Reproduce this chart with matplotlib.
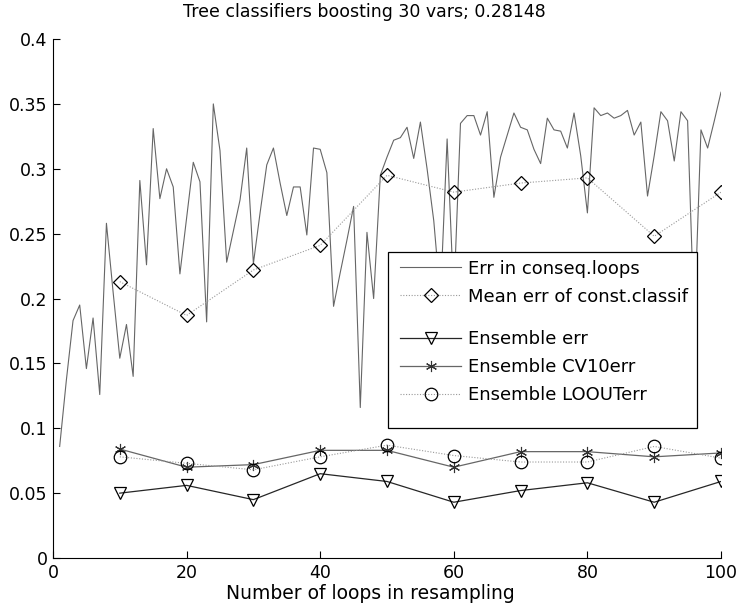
import numpy as np
import matplotlib.pyplot as plt
from matplotlib.patches import Rectangle

# error in consecutive resampling loops
loops = np.arange(1, 101)
err_loops = [0.086, 0.137, 0.183, 0.195, 0.146, 0.185, 0.126, 0.258, 0.205, 0.154,
             0.180, 0.140, 0.291, 0.226, 0.331, 0.277, 0.300, 0.286, 0.219, 0.262,
             0.305, 0.290, 0.182, 0.350, 0.314, 0.228, 0.252, 0.276, 0.316, 0.227,
             0.266, 0.303, 0.316, 0.289, 0.264, 0.286, 0.286, 0.249, 0.316, 0.315,
             0.297, 0.194, 0.220, 0.245, 0.271, 0.116, 0.251, 0.200, 0.295, 0.309,
             0.322, 0.324, 0.332, 0.308, 0.336, 0.300, 0.260, 0.200, 0.323, 0.200,
             0.335, 0.341, 0.341, 0.326, 0.344, 0.278, 0.309, 0.326, 0.343, 0.332,
             0.330, 0.315, 0.304, 0.339, 0.330, 0.329, 0.316, 0.343, 0.310, 0.266,
             0.347, 0.341, 0.343, 0.339, 0.341, 0.345, 0.326, 0.336, 0.279, 0.310,
             0.344, 0.337, 0.306, 0.344, 0.337, 0.180, 0.330, 0.316, 0.337, 0.359]

# every 10 loops
step_loops = np.arange(10, 101, 10)
mean_const_err = [0.213, 0.187, 0.222, 0.241, 0.295, 0.282, 0.289, 0.293, 0.248, 0.282]
ens_err = [0.050, 0.056, 0.045, 0.065, 0.059, 0.043, 0.052, 0.058, 0.043, 0.059]
ens_cv10 = [0.084, 0.070, 0.072, 0.083, 0.083, 0.070, 0.082, 0.082, 0.078, 0.081]
ens_loout = [0.078, 0.073, 0.068, 0.078, 0.087, 0.079, 0.074, 0.074, 0.086, 0.077]

xticks = [0, 20, 40, 60, 80, 100]
yticks = [0, 0.05, 0.1, 0.15, 0.2, 0.25, 0.3, 0.35, 0.4]
ytick_labels = ['0', '0.05', '0.1', '0.15', '0.2', '0.25', '0.3', '0.35', '0.4']

plt.rcParams['font.family'] = 'DejaVu Sans'

fig = plt.figure(figsize=(7.37, 6.10), dpi=100)
ax = fig.add_axes([0.0719, 0.0852, 0.9064, 0.8508])

dots = (0, (1, 1.5))
h1, = ax.plot(loops, err_loops, color='0.4', lw=0.8, label='Err in conseq.loops')
h2, = ax.plot(step_loops, mean_const_err, ls=dots, color='0.6', lw=0.8,
              marker='D', ms=6.8, mfc='none', mec='k', mew=0.9,
              label='Mean err of const.classif')
h3, = ax.plot(step_loops, ens_err, color='0.15', lw=0.9,
              marker='v', ms=9, mfc='none', mec='k', mew=0.9, label='Ensemble err')
h4, = ax.plot(step_loops, ens_cv10, color='0.4', lw=0.9,
              marker=(6, 2, 0), ms=8, mec='0.2', mew=0.8, label='Ensemble CV10err')
h5, = ax.plot(step_loops, ens_loout, ls=dots, color='0.6', lw=0.8,
              marker='o', ms=9, mfc='none', mec='k', mew=0.9, label='Ensemble LOOUTerr')

ax.set_xlim(0, 100)
ax.set_ylim(0, 0.4)
ax.set_xticks(xticks)
ax.set_yticks(yticks)
ax.set_yticklabels(ytick_labels)
ax.spines['top'].set_visible(False)
ax.spines['right'].set_visible(False)
ax.tick_params(direction='in', length=5, labelsize=12.5, pad=4)

ax.set_title('Tree classifiers boosting 30 vars; 0.28148', fontsize=12.5, x=0.4656, pad=16)
ax.set_xlabel('Number of loops in resampling', fontsize=13.5, x=0.475, labelpad=2)

# legend box with a gap between the two groups
ax.add_patch(Rectangle((0.5015, 0.2505), 0.4625, 0.3391, transform=ax.transAxes,
                       fc='white', ec='k', lw=0.9, zorder=4))
leg_kw = dict(loc='center left', frameon=False, borderpad=0, borderaxespad=0,
              handlelength=3.4, handletextpad=0.35, labelspacing=0.55,
              fontsize=13, numpoints=1)
leg1 = ax.legend(handles=[h1, h2], bbox_to_anchor=(0.5195, 0.5308), **leg_kw)
ax.add_artist(leg1)
ax.legend(handles=[h3, h4, h5], bbox_to_anchor=(0.5195, 0.368), **leg_kw)

fig.savefig('out.png', dpi=100)
